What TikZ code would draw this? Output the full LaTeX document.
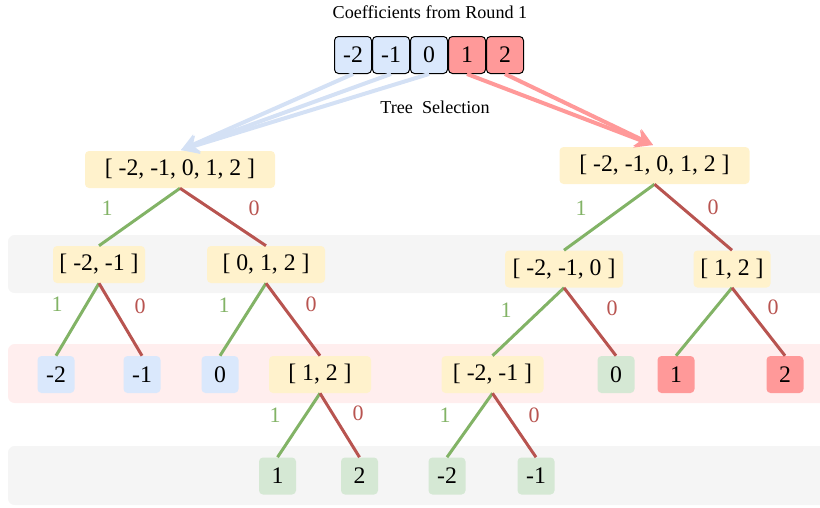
\documentclass[tikz,border=0pt]{standalone}
\usepackage{fontspec}
\setmainfont{Liberation Serif}
\usetikzlibrary{arrows.meta,positioning}

\definecolor{cellblue}{HTML}{DAE8FC}
\definecolor{cellred}{HTML}{FF9999}
\definecolor{cellgreen}{HTML}{D5E8D4}
\definecolor{cellyellow}{HTML}{FFF2CC}
\definecolor{bandgray}{HTML}{F5F5F5}
\definecolor{bandpink}{HTML}{FFEEEE}
\definecolor{arrowblue}{HTML}{D4E1F5}
\definecolor{edgegreen}{HTML}{82B366}
\definecolor{edgered}{HTML}{B85450}

\begin{document}
\begin{tikzpicture}[x=0.75pt,y=-0.75pt,node distance=0pt]
          \tikzstyle{every node}=[font=\fontsize{17.8}{20}\selectfont,text=black]
          \tikzstyle{coef}=[draw=black,line width=0.75pt,rounded corners=3pt,minimum width=27.75pt,minimum height=27.75pt,inner sep=0pt]
          \tikzstyle{subset}=[fill=cellyellow,rounded corners=3pt,minimum height=27.75pt,inner sep=0pt]
          \tikzstyle{leaf}=[rounded corners=3pt,minimum width=27.75pt,minimum height=27.75pt,inner sep=0pt]
          \tikzstyle{bit}=[font=\fontsize{16.5}{18}\selectfont]
          \tikzstyle{pick}=[line width=3pt,-{Stealth[length=13pt,width=14pt,inset=4pt]}]
          \tikzstyle{one}=[draw=edgegreen,line width=2.25pt]
          \tikzstyle{zero}=[draw=edgered,line width=2.25pt]

          \useasboundingbox (0,0) rectangle (820,507);

          % bands
          \fill[bandgray,rounded corners=5pt]  (8,235) rectangle (830,293);
          \fill[bandpink,rounded corners=5pt]  (8,344) rectangle (830,403);
          \fill[bandgray,rounded corners=5pt]  (8,446) rectangle (830,505);

          % coefficients
          \node (title) at (430,12) {\fontsize{13.6}{16}\selectfont Coefficients from Round 1};
          \node[coef,fill=cellblue] (c1) at (353,55) {-2};
          \node[coef,fill=cellblue] (c2) [right=of c1] {-1};
          \node[coef,fill=cellblue] (c3) [right=of c2] {0};
          \node[coef,fill=cellred]  (c4) [right=of c3] {1};
          \node[coef,fill=cellred]  (c5) [right=of c4] {2};
          \node (sel) at (435,107) {\fontsize{13.6}{16}\selectfont Tree\ \ Selection};

          % left tree
          \node[subset,minimum width=142.5pt] (L)    at (180,169.5) {[ -2, -1, 0, 1, 2 ]};
          \node[subset,minimum width=69pt]    (L1)   at (99,264.5)  {[ -2, -1 ]};
          \node[subset,minimum width=88.5pt]  (L0)   at (266,264.5) {[ 0, 1, 2 ]};
          \node[leaf,fill=cellblue]           (L11)  at (56,374.5)  {-2};
          \node[leaf,fill=cellblue]           (L10)  at (142,374.5) {-1};
          \node[leaf,fill=cellblue]           (L01)  at (220,374.5) {0};
          \node[subset,minimum width=76.5pt]  (L00)  at (320,374.5) {[ 1, 2 ]};
          \node[leaf,fill=cellgreen]          (L001) at (277.5,476) {1};
          \node[leaf,fill=cellgreen]          (L000) at (359.5,476) {2};

          % right tree
          \node[subset,minimum width=142.5pt] (R)    at (654.5,165.5) {[ -2, -1, 0, 1, 2 ]};
          \node[subset,minimum width=88.5pt]  (R1)   at (564,269)   {[ -2, -1, 0 ]};
          \node[subset,minimum width=57.75pt] (R0)   at (732,269)   {[ 1, 2 ]};
          \node[subset,minimum width=76.5pt]  (R11)  at (492.5,374.5) {[ -2, -1 ]};
          \node[leaf,fill=cellgreen]          (R10)  at (616,374.5) {0};
          \node[leaf,fill=cellred]            (R01)  at (676,374.5) {1};
          \node[leaf,fill=cellred]            (R00)  at (785,374.5) {2};
          \node[leaf,fill=cellgreen]          (R111) at (447,476)   {-2};
          \node[leaf,fill=cellgreen]          (R110) at (536,476)   {-1};

          \coordinate (tipL) at (181,150);
          \coordinate (tipR) at (653,145);
          \draw[pick,arrowblue] (c1.south) -- (tipL);
          \draw[pick,arrowblue] (c2.south) -- (tipL);
          \draw[pick,arrowblue] (c3.south) -- (tipL);
          \draw[pick,cellred] (c4.south) -- (tipR);
          \draw[pick,cellred] (c5.south) -- (tipR);

          \path (L.south)   edge[one]  (L1.north)
                            edge[zero] (L0.north)
                (L1.south)  edge[one]  (L11.north)
                            edge[zero] (L10.north)
                (L0.south)  edge[one]  (L01.north)
                            edge[zero] (L00.north)
                (L00.south) edge[one]  (L001.north)
                            edge[zero] (L000.north)
                (R.south)   edge[one]  (R1.north)
                            edge[zero] (R0.north)
                (R1.south)  edge[one]  (R11.north)
                            edge[zero] (R10.north)
                (R0.south)  edge[one]  (R01.north)
                            edge[zero] (R00.north)
                (R11.south) edge[one]  (R111.north)
                            edge[zero] (R110.north);

          % branch bits
          \node[bit,text=edgegreen] (bL1)   at (107,208) {1};
          \node[bit,text=edgered]   (bL0)   at (254,208) {0};
          \node[bit,text=edgegreen] (bL11)  at (57,304)  {1};
          \node[bit,text=edgered]   (bL10)  at (140,306) {0};
          \node[bit,text=edgegreen] (bL01)  at (224,305) {1};
          \node[bit,text=edgered]   (bL00)  at (311,304) {0};
          \node[bit,text=edgegreen] (bL001) at (275,415) {1};
          \node[bit,text=edgered]   (bL000) at (358,413) {0};
          \node[bit,text=edgegreen] (bR1)   at (581,208) {1};
          \node[bit,text=edgered]   (bR0)   at (713,207) {0};
          \node[bit,text=edgegreen] (bR11)  at (506,310) {1};
          \node[bit,text=edgered]   (bR10)  at (612,308) {0};
          \node[bit,text=edgered]   (bR00)  at (773,307) {0};
          \node[bit,text=edgegreen] (bR111) at (445,415) {1};
          \node[bit,text=edgered]   (bR110) at (534,415) {0};
\end{tikzpicture}
\end{document}
